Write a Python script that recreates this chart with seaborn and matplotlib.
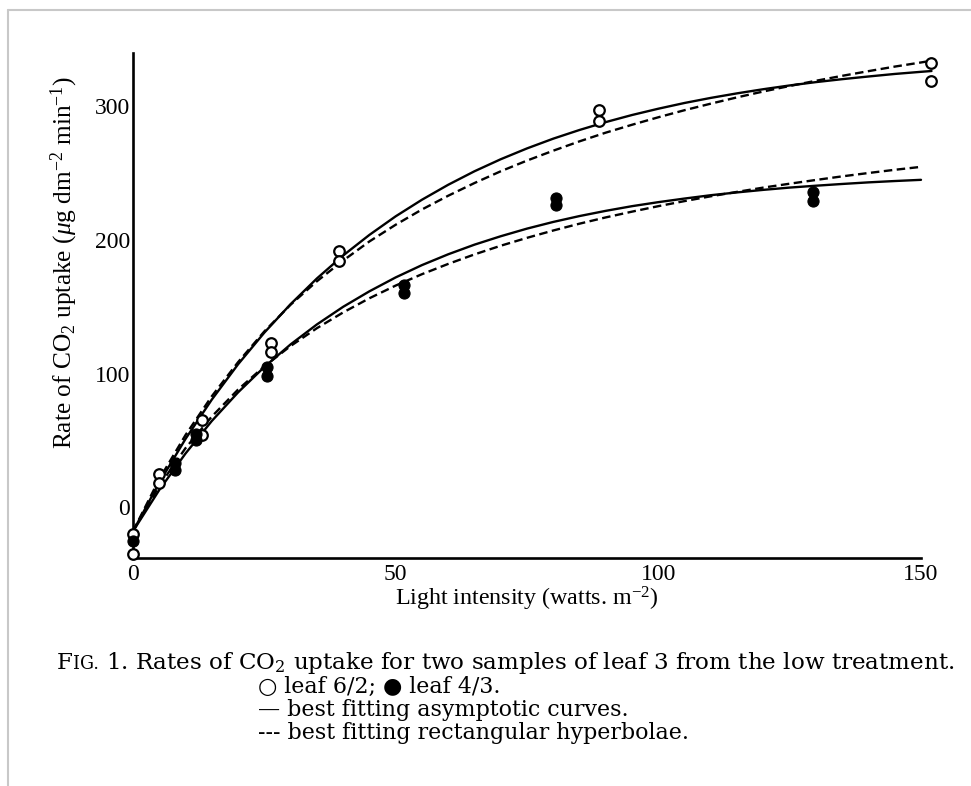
import matplotlib
matplotlib.use("Agg")
import matplotlib.pyplot as plt
import seaborn as sns
from matplotlib.lines import Line2D

# ---------------- data ----------------
# leaf 6/2 (open circles)
open_x = [0, 0, 5, 5, 13.2, 13.2, 26.2, 26.2, 39.2, 39.2, 88.8, 88.8, 151.9, 151.9]
open_y = [-20, -35, 25, 18, 65, 54, 123, 116, 192, 184, 297, 289, 332, 319]
# leaf 4/3 (filled circles)
filled_x = [0, 8, 8, 12, 12, 25.5, 25.5, 51.5, 51.5, 80.5, 80.5, 129.5, 129.5]
filled_y = [-25, 33, 28, 55, 50, 105, 98, 166, 160, 231, 226, 236, 229]

# fitted curves
curve_x_62 = [0, 5, 10, 15, 20, 25, 30, 35, 40, 45, 50, 55, 60, 65, 70, 75, 80, 85,
              90, 95, 100, 105, 110, 115, 120, 125, 130, 135, 140, 145, 150, 152]
asym_62 = [-18.0, 18.4, 51.1, 80.5, 106.9, 130.6, 151.9, 171.1, 188.3, 203.7, 217.6,
           230.0, 241.2, 251.3, 260.3, 268.4, 275.7, 282.2, 288.1, 293.4, 298.1, 302.4,
           306.2, 309.6, 312.7, 315.5, 318.0, 320.2, 322.2, 324.1, 325.7, 326.3]
hyp_62 = [-18.0, 21.0, 54.0, 83.0, 108.5, 131.5, 151.5, 169.0, 184.5, 198.8, 211.3,
          222.7, 233.0, 242.5, 251.3, 259.3, 266.7, 273.7, 280.2, 286.1, 291.7, 297.0,
          301.9, 306.6, 311.0, 315.1, 319.0, 322.7, 326.2, 329.6, 332.7, 334.0]

curve_x_43 = [0, 5, 10, 15, 20, 25, 30, 35, 40, 45, 50, 55, 60, 65, 70, 75, 80, 85,
              90, 95, 100, 105, 110, 115, 120, 125, 130, 135, 140, 145, 150]
asym_43 = [-18.0, 12.9, 40.2, 64.5, 85.9, 104.9, 121.8, 136.7, 149.9, 161.5, 171.9,
           181.1, 189.2, 196.4, 202.7, 208.4, 213.4, 217.8, 221.7, 225.2, 228.2, 230.9,
           233.4, 235.5, 237.4, 239.1, 240.5, 241.8, 243.0, 244.0, 244.9]
hyp_43 = [-18.0, 16.0, 44.2, 67.8, 88.0, 105.4, 120.6, 133.9, 145.7, 156.3, 165.8,
          174.3, 182.0, 189.1, 195.6, 201.5, 207.0, 212.1, 216.8, 221.1, 225.2, 229.0,
          232.6, 235.9, 239.1, 242.0, 244.8, 247.5, 250.0, 252.4, 254.6]

x_ticks = [0, 50, 100, 150]
y_ticks = [0, 100, 200, 300]
x_label = "Light intensity (watts. m$^{-2}$)"
y_label = r"Rate of CO$_2$ uptake ($\mu$g dm$^{-2}$ min$^{-1}$)"

# ---------------- style ----------------
sns.set_theme(style="white")
plt.rcParams['font.family'] = ['Liberation Serif', 'DejaVu Serif', 'DejaVu Sans']
plt.rcParams['mathtext.fontset'] = 'custom'
plt.rcParams['mathtext.rm'] = 'Liberation Serif'
plt.rcParams['mathtext.it'] = 'Liberation Serif:italic'
plt.rcParams['mathtext.bf'] = 'Liberation Serif:bold'

W, H = 971, 786
fig = plt.figure(figsize=(W / 100, H / 100), dpi=100)
ax = fig.add_axes([133 / W, 1 - 558 / H, (921 - 133) / W, (558 - 52.7) / H])

LW = 1.7
dash = (0, (3.6, 1.9))
for cx, cy, ls in [(curve_x_62, asym_62, '-'), (curve_x_62, hyp_62, dash),
                   (curve_x_43, asym_43, '-'), (curve_x_43, hyp_43, dash)]:
    sns.lineplot(x=cx, y=cy, ax=ax, color='black', lw=LW, linestyle=ls,
                 sort=False, estimator=None, clip_on=False)

sns.scatterplot(x=open_x, y=open_y, ax=ax, marker='o', s=58, facecolor='white',
                edgecolor='black', linewidth=1.6, clip_on=False, zorder=4)
sns.scatterplot(x=filled_x, y=filled_y, ax=ax, marker='o', s=64, color='black',
                edgecolor='black', linewidth=0.8, clip_on=False, zorder=4)

ax.set_xlim(0, 150)
ax.set_ylim(-38, 340)
ax.set_xticks(x_ticks)
ax.set_yticks(y_ticks)
ax.set_xticklabels([str(v) for v in x_ticks])
ax.set_yticklabels([str(v) for v in y_ticks])
for s in ['top', 'right']:
    ax.spines[s].set_visible(False)
for s in ['left', 'bottom']:
    ax.spines[s].set_linewidth(1.9)
    ax.spines[s].set_color('black')
ax.tick_params(axis='both', direction='in', length=6, width=1.6, colors='black',
               labelsize=17)
ax.tick_params(axis='y', pad=2)
ax.tick_params(axis='x', pad=4)
ax.set_xlabel(x_label, fontsize=17.3, color='black', labelpad=0)
ax.set_ylabel(y_label, fontsize=18.3, color='black')
ax.yaxis.set_label_coords(-0.067, 0.584)
ax.patch.set_alpha(0)

# ---------------- page frame ----------------
fig.add_artist(Line2D([8 / W, 8 / W], [0, 1 - 10 / H], transform=fig.transFigure,
                      color='#c8c8c8', lw=1.5))
fig.add_artist(Line2D([8 / W, 1], [1 - 10 / H, 1 - 10 / H], transform=fig.transFigure,
                      color='#c8c8c8', lw=1.5))

# ---------------- caption ----------------
renderer = fig.canvas.get_renderer()
cap_fam = ['DejaVu Serif', 'DejaVu Sans']


def put(x_px, y_px, txt, size, store):
    t = fig.text(x_px / W, 1 - y_px / H, txt, fontsize=size, va='baseline',
                 ha='left', color='black', family=cap_fam,
                 math_fontfamily='dejavuserif')
    store.append(t)
    bb = t.get_window_extent(renderer=renderer)
    return x_px + bb.width


def first_line(size):
    store = []
    x = put(57, 669, "F", size, store)
    x = put(x, 669, "IG.", size * 0.76, store)
    x = put(x, 669, " 1. Rates of CO$_2$ uptake for two samples of leaf 3 from the low treatment.",
            size, store)
    return store, x


trial, end = first_line(16.0)
for t in trial:
    t.remove()
CS = 16.0 * (958 - 57) / (end - 57)
first_line(CS)

CS2 = CS * 0.96
put(258, 693, "○ leaf 6/2; ● leaf 4/3.", CS2, [])
put(258, 716, "— best fitting asymptotic curves.", CS2, [])
put(258, 739, "--- best fitting rectangular hyperbolae.", CS2, [])

fig.savefig("out.png", dpi=100, facecolor='white')
